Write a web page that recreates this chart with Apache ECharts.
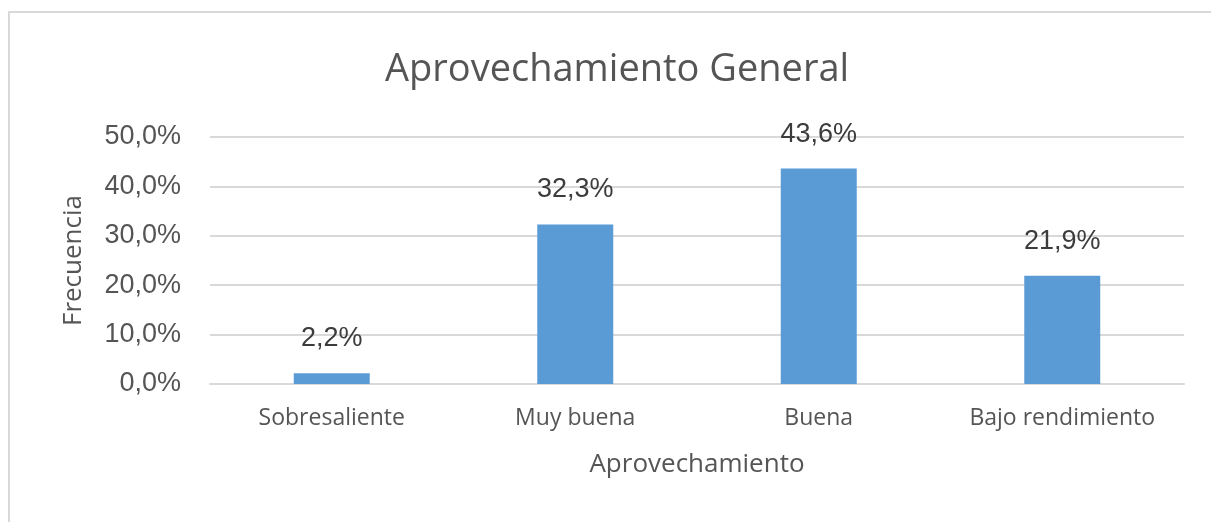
<!DOCTYPE html>
<html><head><meta charset="utf-8">
<script src="https://cdn.jsdelivr.net/npm/echarts@6/dist/echarts.min.js"></script>
<style>html,body{margin:0;padding:0;background:#fff}#c{width:1211px;height:522px}</style>
</head><body><div id="c"></div>
<script>
var categories = ['Sobresaliente', 'Muy buena', 'Buena', 'Bajo rendimiento'];
var values = [2.2, 32.3, 43.6, 21.9];
var yTicks = [0, 10, 20, 30, 40, 50];
var fmt = function (v) { return Number(v).toFixed(1).replace('.', ',') + '%'; };
var chart = echarts.init(document.getElementById('c'));
chart.setOption({
  backgroundColor: '#fff',
  animation: false,
  graphic: [{ type: 'rect', shape: { x: 9, y: 12, width: 1215, height: 530 }, style: { fill: 'none', stroke: '#d9d9d9', lineWidth: 2 }, silent: true }],
  title: { text: 'Aprovechamiento General', left: 380, top: 46,
    textStyle: { fontFamily: 'Open Sans', fontWeight: 'normal', fontSize: 38, color: '#555555' } },
  grid: { left: 210, right: 27, top: 137, bottom: 138 },
  xAxis: { type: 'category', data: categories,
    name: 'Aprovechamiento', nameLocation: 'middle', nameGap: 68,
    nameTextStyle: { fontFamily: 'Open Sans', fontSize: 26, color: '#555555' },
    axisLine: { lineStyle: { color: '#d9d9d9', width: 2 } }, axisTick: { show: false },
    axisLabel: { fontFamily: 'Open Sans', fontSize: 23, color: '#555555', margin: 23 } },
  yAxis: { type: 'value', min: yTicks[0], max: yTicks[yTicks.length - 1], interval: 10,
    name: 'Frecuencia', nameLocation: 'middle', nameGap: 123, nameRotate: 90,
    nameTextStyle: { fontFamily: 'Open Sans', fontSize: 26, color: '#555555' },
    axisLine: { show: false }, axisTick: { show: false },
    splitLine: { lineStyle: { color: '#d9d9d9', width: 2 } },
    axisLabel: { fontFamily: 'Liberation Sans', fontSize: 27, color: '#555555', margin: 29, formatter: fmt } },
  series: [{ type: 'bar', data: values, barWidth: 76,
    itemStyle: { color: '#5b9bd5' },
    label: { show: true, position: 'top', distance: 21, fontFamily: 'Liberation Sans', fontSize: 27, color: '#3c3c3c',
      formatter: function (p) { return fmt(p.value); } } }]
});
</script></body></html>
